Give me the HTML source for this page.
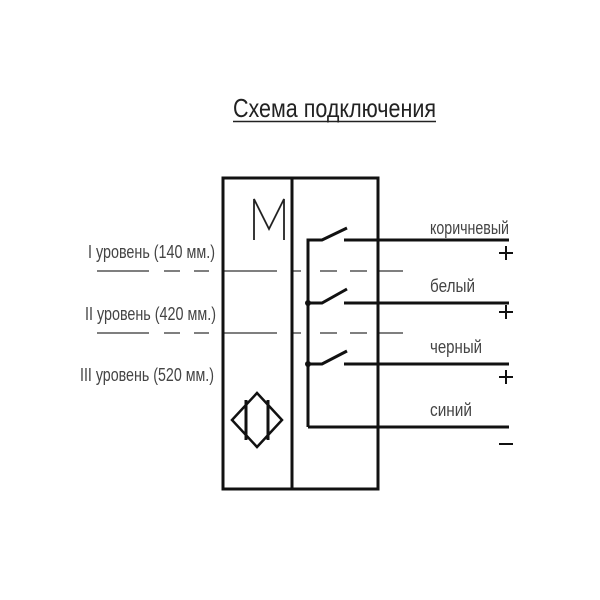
<!DOCTYPE html>
<html><head><meta charset="utf-8"><style>body{margin:0;background:#fff}svg{display:block}</style></head><body>
<svg width="600" height="600" viewBox="0 0 600 600" xmlns="http://www.w3.org/2000/svg" font-family="Liberation Sans, sans-serif">
<rect width="600" height="600" fill="#fff"/>
<text x="233" y="117" font-size="26" fill="#222" textLength="203" lengthAdjust="spacingAndGlyphs">Схема подключения</text>
<line x1="233" y1="121.5" x2="436" y2="121.5" stroke="#222" stroke-width="1.5"/>
<g stroke="#333" stroke-width="1.2" fill="none">
<path d="M97 271H149M164 271H180M194 271H209M224 271H277M293 271H301M320 271H337M350 271H367M377 271H403"/>
<path d="M97 333H149M164 333H180M194 333H209M224 333H277M293 333H301M320 333H337M350 333H367M377 333H403"/>
</g>
<g fill="#444" font-size="18">
<text x="88" y="258" textLength="127" lengthAdjust="spacingAndGlyphs">I уровень (140 мм.)</text>
<text x="85" y="320" textLength="131" lengthAdjust="spacingAndGlyphs">II уровень (420 мм.)</text>
<text x="80" y="381" textLength="134" lengthAdjust="spacingAndGlyphs">III уровень (520 мм.)</text>
<text x="430" y="234" textLength="79" lengthAdjust="spacingAndGlyphs">коричневый</text>
<text x="430" y="292" textLength="45" lengthAdjust="spacingAndGlyphs">белый</text>
<text x="430" y="353" textLength="52" lengthAdjust="spacingAndGlyphs">черный</text>
<text x="430" y="416" textLength="42" lengthAdjust="spacingAndGlyphs">синий</text>
</g>
<g stroke="#111" stroke-width="3" fill="none">
<rect x="223" y="178" width="155" height="311"/>
<line x1="292" y1="178" x2="292" y2="489"/>
<path d="M308 427V240H322L347 228"/>
<path d="M308 303H322L347 289"/>
<path d="M308 364H322L347 351"/>
<path d="M344 240H509M344 303H509M344 364H509M308 427H509"/>
<path d="M232 420L257 393L282 420L257 447Z" stroke-width="2.5"/>
<path d="M246 400V440M268 400V440"/>
</g>
<g stroke="#222" stroke-width="1.8">
<path d="M254 240V199L269 229L284 199V240" fill="none"/>
</g>
<circle cx="308" cy="303" r="3" fill="#111"/>
<circle cx="308" cy="364" r="3" fill="#111"/>
<g stroke="#111" stroke-width="2">
<path d="M499 253H513M506 246V260"/>
<path d="M499 312H513M506 305V319"/>
<path d="M499 377H513M506 370V384"/>
<path d="M499 444H513"/>
</g>
</svg>
</body></html>
